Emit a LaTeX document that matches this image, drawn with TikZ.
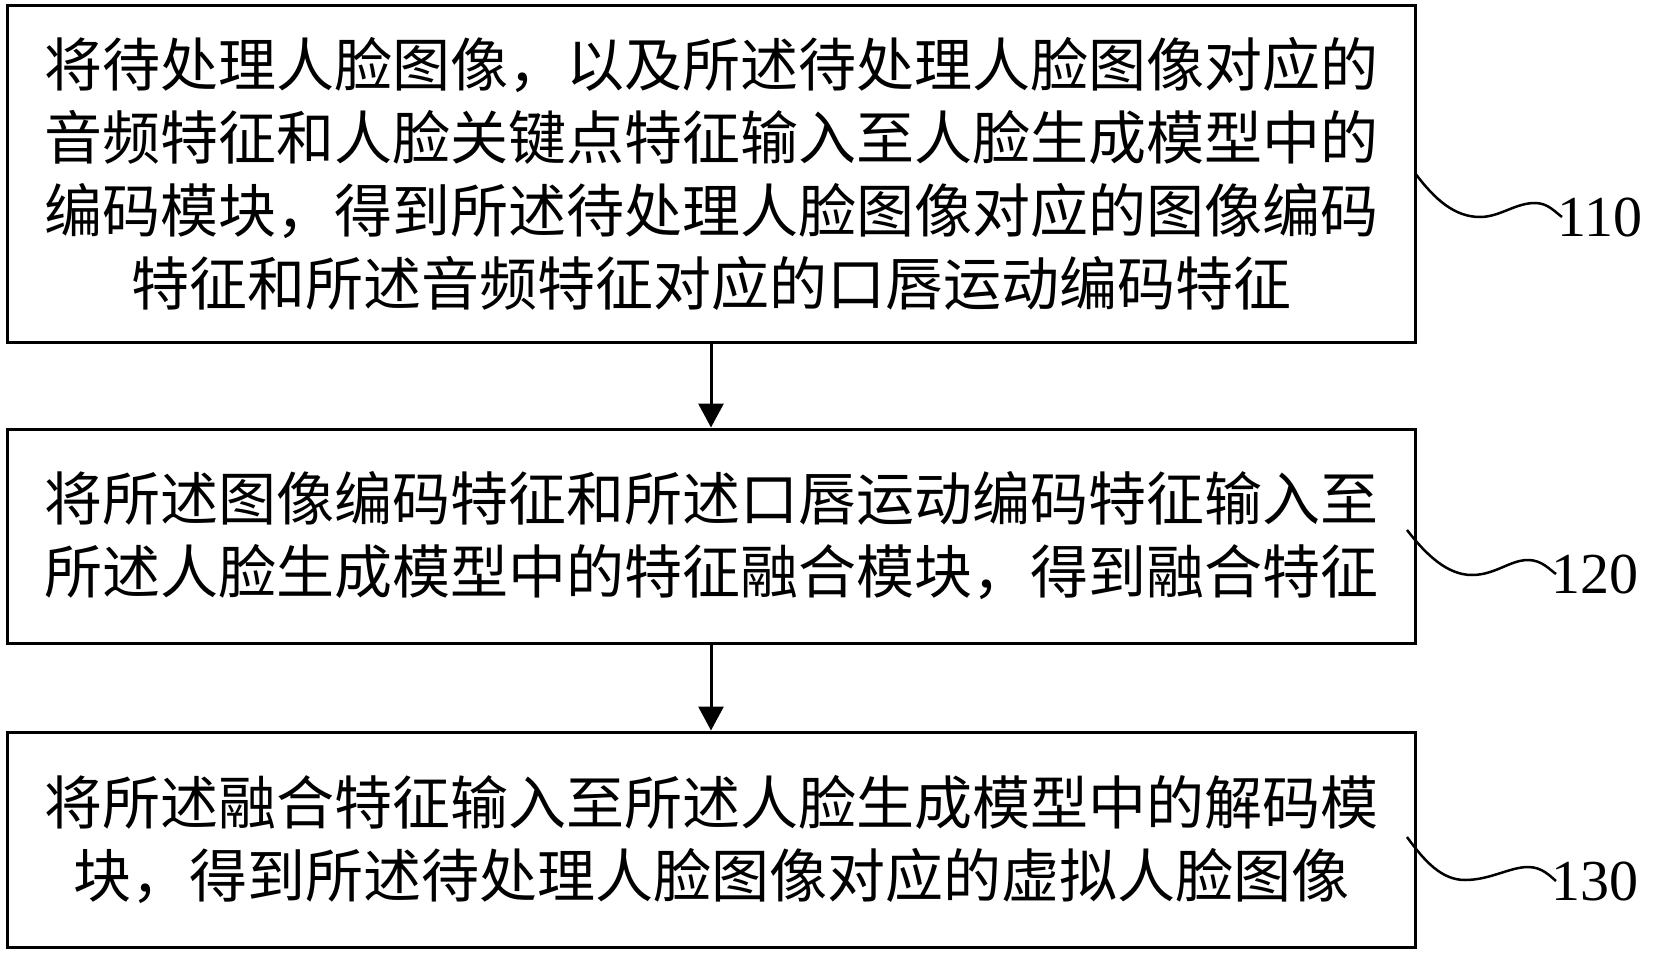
\documentclass[tikz,border=0pt]{standalone}
\usepackage{fontspec}
\setmainfont{Liberation Serif}
\newfontfamily\cjk{Noto Sans CJK SC}
\usetikzlibrary{arrows.meta}
\tikzset{
  stepbox/.style={draw=black, line width=3pt, fill=white, minimum width=1408pt, inner sep=0pt,
    align=center, font=\cjk\fontsize{58}{73}\selectfont},
  arr/.style={line width=3pt, -{Triangle[width=25pt,length=24pt]}},
  curvy/.style={line width=2.5pt},
  lbl/.style={anchor=west, inner sep=0pt, font=\fontsize{58}{60}\selectfont}
}
\begin{document}
\begin{tikzpicture}[x=1pt,y=-1pt]
\useasboundingbox (0,0) rectangle (1659,963);
\node[stepbox, minimum height=336pt] (b1) at (711,174) {将待处理人脸图像，以及所述待处理人脸图像对应的\\音频特征和人脸关键点特征输入至人脸生成模型中的\\编码模块，得到所述待处理人脸图像对应的图像编码\\特征和所述音频特征对应的口唇运动编码特征};
\node[stepbox, minimum height=214pt] (b2) at (711,536) {将所述图像编码特征和所述口唇运动编码特征输入至\\所述人脸生成模型中的特征融合模块，得到融合特征};
\node[stepbox, minimum height=215pt] (b3) at (711,839.5) {将所述融合特征输入至所述人脸生成模型中的解码模\\块，得到所述待处理人脸图像对应的虚拟人脸图像};
\draw[arr] (b1) -- (b2);
\draw[arr] (b2) -- (b3);
\node[lbl] (l1) at (1557,217) {110};
\node[lbl] (l2) at (1551,574) {120};
\node[lbl] (l3) at (1551,881) {130};
\coordinate (c1) at (1415,173);
\coordinate (c2) at (1407,530);
\coordinate (c3) at (1407,837);
\draw[curvy] (c1) .. controls (1435,200) and (1455,217) .. (1480,217)
  .. controls (1500,217) and (1515,203) .. (1535,203)
  .. controls (1548,203) and (1555,212) .. ([xshift=5pt]l1.west);
\draw[curvy] (c2) .. controls (1427,556) and (1448,575) .. (1472,575)
  .. controls (1495,575) and (1510,560) .. (1528,560)
  .. controls (1542,560) and (1550,570) .. ([xshift=5pt]l2.west);
\draw[curvy] (c3) .. controls (1425,862) and (1442,880) .. (1465,880)
  .. controls (1490,880) and (1510,867) .. (1528,867)
  .. controls (1542,867) and (1550,876) .. ([xshift=5pt]l3.west);
\end{tikzpicture}
\end{document}
